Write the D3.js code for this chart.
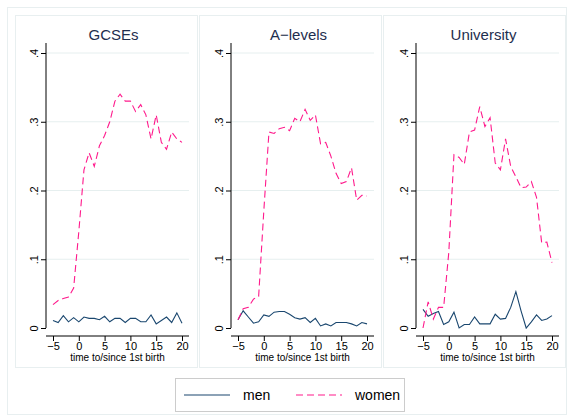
<!DOCTYPE html>
<html>
<head>
<meta charset="UTF-8">
<script src="https://d3js.org/d3.v7.min.js"></script>
<style>
  body { margin: 0; background: #fff; }
  text { font-family: "Liberation Sans", Arial, sans-serif; }
</style>
</head>
<body>
<script>
const years = d3.range(-5, 21);
const panels = ['GCSEs', 'A\u2212levels', 'University'];
const yTicks = [0, 0.1, 0.2, 0.3, 0.4];
const yTickLabels = ['0', '.1', '.2', '.3', '.4'];
const xTicks = [-5, 0, 5, 10, 15, 20];

const gcseMen = [0.011,0.008,0.018,0.009,0.015,0.009,0.016,0.014,0.014,0.012,0.017,0.009,0.014,0.014,0.008,0.014,0.014,0.009,0.009,0.019,0.006,0.011,0.016,0.008,0.022,0.007];
const gcseWomen = [0.034,0.040,0.043,0.045,0.058,0.14,0.23,0.255,0.235,0.265,0.28,0.30,0.33,0.34,0.33,0.33,0.315,0.325,0.31,0.275,0.31,0.27,0.26,0.285,0.275,0.27];
const alevMen = [0.012,0.025,0.016,0.007,0.009,0.019,0.017,0.023,0.024,0.024,0.020,0.015,0.013,0.015,0.008,0.014,0.003,0.006,0.003,0.008,0.008,0.008,0.006,0.003,0.008,0.006];
const alevWomen = [0.012,0.028,0.030,0.042,0.046,0.17,0.285,0.283,0.290,0.292,0.287,0.305,0.300,0.318,0.302,0.31,0.268,0.270,0.25,0.225,0.21,0.213,0.233,0.186,0.193,0.192];
const uniMen = [0.027,0.017,0.021,0.024,0.005,0.009,0.023,0.0,0.005,0.005,0.016,0.006,0.006,0.006,0.020,0.013,0.014,0.030,0.053,0.025,0.0,0.009,0.019,0.011,0.013,0.018];
const uniWomen = [0.0,0.038,0.013,0.030,0.030,0.11,0.252,0.248,0.238,0.285,0.288,0.322,0.293,0.306,0.24,0.23,0.275,0.235,0.22,0.204,0.205,0.213,0.19,0.124,0.125,0.095];

const menSeries = [gcseMen, alevMen, uniMen];
const womenSeries = [gcseWomen, alevWomen, uniWomen];

const navy = '#1a476f', pink = '#ff1a8c';
const W = 573, H = 420;
const svg = d3.select('body').append('svg').attr('width', W).attr('height', H);

// outer frame
svg.append('rect').attr('x', 7.5).attr('y', 7.5).attr('width', 559).attr('height', 407)
  .attr('fill', '#fff').attr('stroke', '#e8eff0');

const panelX = [15, 199, 383];   // panel frame left edges
const panelW = 182;
const axisOffset = [31, 32, 33];
const y = d3.scaleLinear().domain([0, 0.4]).range([328, 53]);

panels.forEach((name, i) => {
  const px = panelX[i];
  svg.append('rect').attr('x', px + 0.5).attr('y', 15.5).attr('width', panelW).attr('height', 352)
    .attr('fill', 'none').attr('stroke', '#e8eff0');
  const ax = px + axisOffset[i];
  const x = d3.scaleLinear().domain([-5, 20]).range([ax + 7, ax + 136]);
  const g = svg.append('g');

  // grid
  g.selectAll('.grid').data(yTicks.slice(1)).join('line')
    .attr('x1', ax).attr('x2', ax + 143)
    .attr('y1', d => y(d)).attr('y2', d => y(d))
    .attr('stroke', '#e6efef').attr('stroke-width', 1);

  // title
  g.append('text').attr('x', (x(-5) + x(20)) / 2 - 4).attr('y', 40).attr('text-anchor', 'middle')
    .attr('fill', '#1e2e4e').attr('font-size', 15).text(name);

  // y axis
  const ya = g.append('g').attr('transform', `translate(${ax},0)`)
    .call(d3.axisLeft(y).tickValues(yTicks).tickFormat((d, k) => yTickLabels[k]).tickSize(5).tickSizeOuter(0));
  ya.select('.domain').attr('d', `M0,${y(0.4) - 10}V${y(0)}`);
  ya.selectAll('.tick text').attr('font-size', 11).attr('fill', '#000')
    .attr('x', null).attr('y', null).attr('dy', '0.35em')
    .attr('text-anchor', 'middle')
    .attr('transform', 'translate(-12,0) rotate(-90)');

  // x axis
  const xa = g.append('g').attr('transform', `translate(0,${y(0) + 8})`)
    .call(d3.axisBottom(x).tickValues(xTicks).tickSize(5).tickSizeOuter(0).tickPadding(1));
  xa.select('.domain').attr('d', `M${ax},0H${ax + 143}`);
  xa.selectAll('text').attr('font-size', 11).attr('fill', '#000').text(d => d < 0 ? '\u2212' + (-d) : d);
  g.append('text').attr('x', (x(-5) + x(20)) / 2).attr('y', 361).attr('text-anchor', 'middle')
    .attr('font-size', 10).attr('fill', '#000').text('time to/since 1st birth');

  const line = d3.line().x((d, k) => x(years[k])).y(d => y(d));
  g.append('path').attr('d', line(menSeries[i])).attr('fill', 'none').attr('stroke', navy).attr('stroke-width', 1.1);
  g.append('path').attr('d', line(womenSeries[i])).attr('fill', 'none').attr('stroke', pink)
    .attr('stroke-width', 1.1).attr('stroke-dasharray', '7,4');
});

// legend
const lg = svg.append('g');
lg.append('rect').attr('x', 175.5).attr('y', 378.5).attr('width', 229).attr('height', 33)
  .attr('fill', '#fff').attr('stroke', '#ccc');
lg.append('line').attr('x1', 184).attr('x2', 230).attr('y1', 395).attr('y2', 395).attr('stroke', navy).attr('stroke-width', 1.2);
lg.append('text').attr('x', 243).attr('y', 400).attr('font-size', 14).text('men');
lg.append('line').attr('x1', 296).attr('x2', 342).attr('y1', 395).attr('y2', 395).attr('stroke', pink)
  .attr('stroke-width', 1.2).attr('stroke-dasharray', '7,4');
lg.append('text').attr('x', 355).attr('y', 400).attr('font-size', 14).text('women');
</script>
</body>
</html>
